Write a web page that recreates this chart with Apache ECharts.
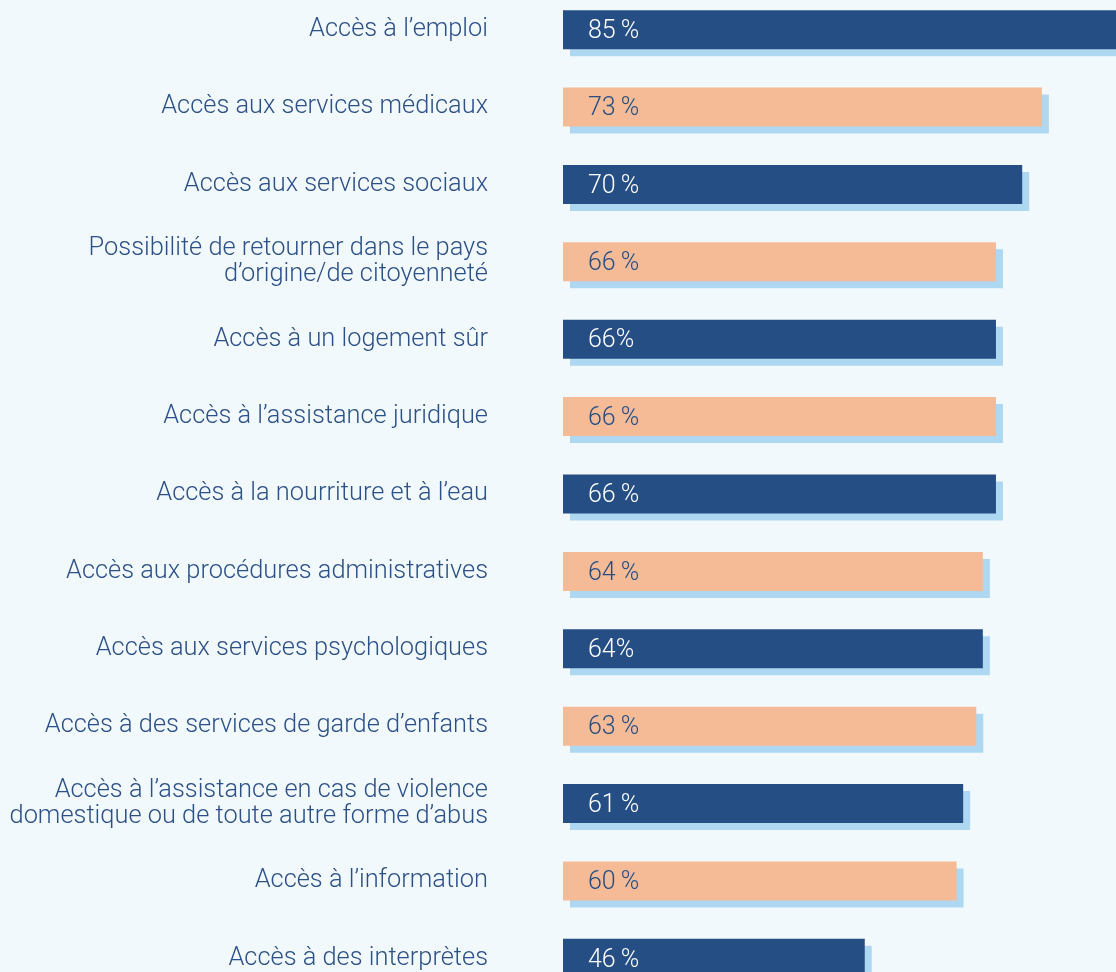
<!DOCTYPE html>
<html>
<head>
<meta charset="utf-8">
<script src="https://cdn.jsdelivr.net/npm/echarts@6/dist/echarts.min.js"></script>
<style>
  html, body { margin: 0; padding: 0; background: #f2f9fd; }
  #chart { width: 1116px; height: 972px; }
</style>
</head>
<body>
<div id="chart"></div>
<script>
// categories, top to bottom
var categories = [
  "Accès à l\u2019emploi",
  "Accès aux services médicaux",
  "Accès aux services sociaux",
  "Possibilité de retourner dans le pays\nd\u2019origine/de citoyenneté",
  "Accès à un logement sûr",
  "Accès à l\u2019assistance juridique",
  "Accès à la nourriture et à l\u2019eau",
  "Accès aux procédures administratives",
  "Accès aux services psychologiques",
  "Accès à des services de garde d\u2019enfants",
  "Accès à l\u2019assistance en cas de violence\ndomestique ou de toute autre forme d\u2019abus",
  "Accès à l\u2019information",
  "Accès à des interprètes"
];
var values = [85, 73, 70, 66, 66, 66, 66, 64, 64, 63, 61, 60, 46];
// value labels as printed (some without the space)
var valueLabels = ["85\u2009%", "73\u2009%", "70\u2009%", "66\u2009%", "66%", "66\u2009%", "66\u2009%", "64\u2009%", "64%", "63\u2009%", "61\u2009%", "60\u2009%", "46\u2009%"];

var DARK = "#254e85";
var PEACH = "#f4bb96";
var SHADOW = "#aed7f2";
var FONT = "Roboto, Liberation Sans, Arial, sans-serif";

var chart = echarts.init(document.getElementById("chart"));

var barData = values.map(function (v, i) {
  var dark = i % 2 === 0;
  return {
    value: v,
    itemStyle: { color: dark ? DARK : PEACH },
    label: { color: dark ? "#ffffff" : DARK }
  };
});

chart.setOption({
  backgroundColor: "#f2f9fd",
  animation: false,
  grid: {
    left: 563, top: -9, width: 656, height: 1006,
    containLabel: false, outerBoundsMode: "none"
  },
  xAxis: {
    type: "value", min: 0, max: 100,
    show: false
  },
  yAxis: {
    type: "category",
    inverse: true,
    data: categories,
    axisLine: { show: false },
    axisTick: { show: false },
    axisLabel: {
      margin: 75,
      align: "right",
      color: "#2c5189",
      fontSize: 25.4,
      fontWeight: 300,
      lineHeight: 26,
      padding: [10, 0, 0, 0],
      fontFamily: FONT
    }
  },
  series: [{
    type: "bar",
    data: barData,
    barWidth: 39,
    itemStyle: {
      shadowColor: SHADOW,
      shadowBlur: 0,
      shadowOffsetX: 7,
      shadowOffsetY: 7
    },
    label: {
      show: true,
      position: "insideLeft",
      offset: [20, 2],
      fontSize: 25,
      fontWeight: 300,
      fontFamily: FONT,
      formatter: function (p) { return valueLabels[p.dataIndex]; }
    }
  }]
});
</script>
</body>
</html>
